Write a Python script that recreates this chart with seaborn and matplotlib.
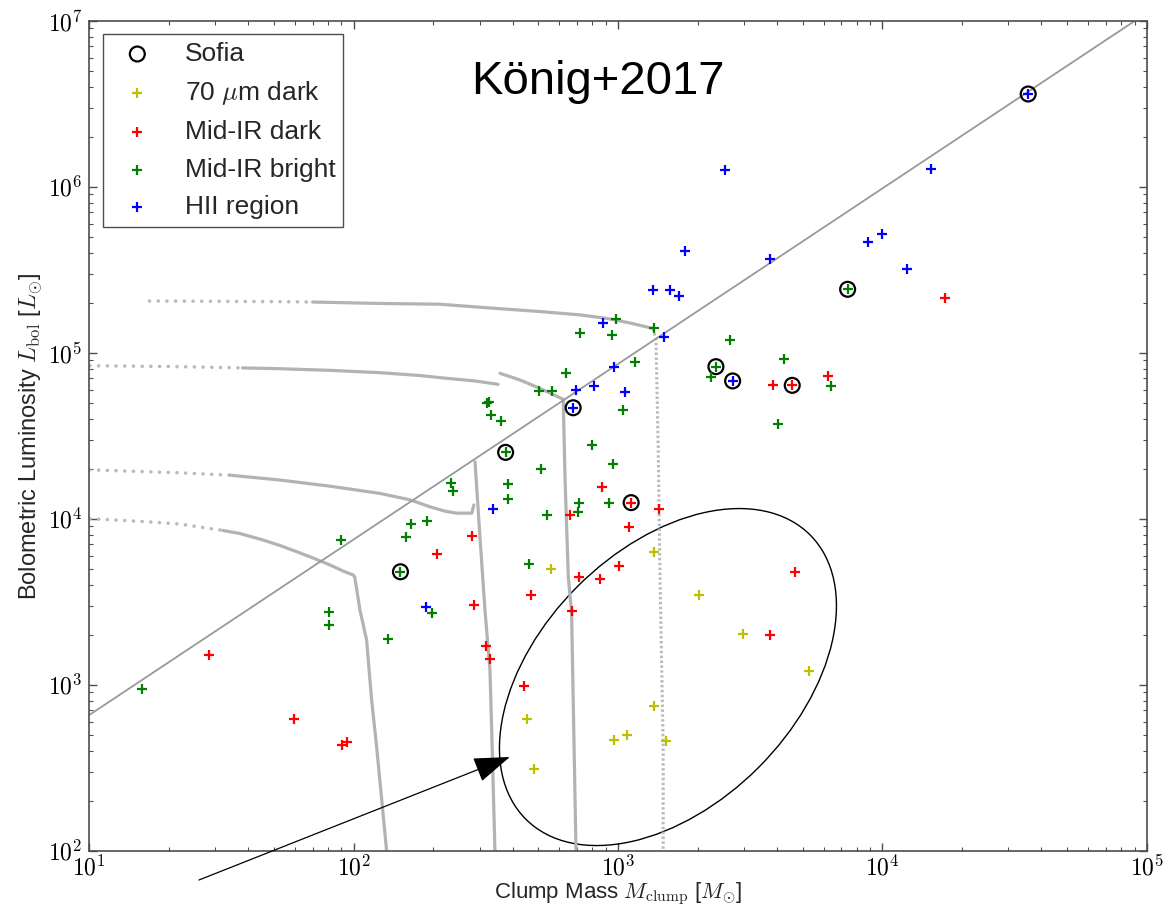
import numpy as np
import pandas as pd
import matplotlib
matplotlib.use("Agg")
import matplotlib.pyplot as plt
import seaborn as sns
from matplotlib.patches import Ellipse
from matplotlib.transforms import ScaledTranslation
from matplotlib.ticker import LogLocator, FuncFormatter, NullFormatter

# ---------------- data ----------------
sofia_mass = [35650, 7396, 2348, 2716, 4564, 677, 376, 1122, 150.4]
sofia_lum = [3.62e6, 2.41e5, 8.24e4, 6.76e4, 6.36e4, 4.66e4, 2.51e4, 1.25e4, 4.79e3]

dark70_mass = [1368, 558, 2030, 2970, 5296, 451, 1368, 968, 1084, 1515, 482]
dark70_lum = [6.32e3, 4.99e3, 3.48e3, 2.02e3, 1.21e3, 621, 744, 464, 498, 460, 309]

irdark_mass = [17260, 6215, 3869, 4564, 868, 1122, 1427, 656, 1097, 280, 207.6, 1012,
               4688, 712, 853, 470, 285, 671, 3758, 317, 328, 28.4, 443, 59.4, 90.1, 94.1]
irdark_lum = [2.14e5, 7.24e4, 6.39e4, 6.36e4, 1.55e4, 1.25e4, 1.15e4, 1.06e4, 8.95e3, 7.83e3,
              6.11e3, 5.19e3, 4.79e3, 4.44e3, 4.31e3, 3.48e3, 3.01e3, 2.77e3, 2.00e3, 1.72e3,
              1.43e3, 1.52e3, 989, 621, 433, 454]

irbright_mass = [7396, 980, 718, 951, 1368, 2652, 1163, 4257, 2348, 2243, 636, 504, 564, 6377,
                 321, 324, 330, 361, 1047, 4018, 376, 795, 960, 513, 233, 237, 383, 383, 922,
                 712, 706, 539, 461, 189, 164.4, 157.4, 89.3, 150.4, 197.8, 80.7, 80.7, 134.9, 15.8]
irbright_lum = [2.41e5, 1.59e5, 1.31e5, 1.27e5, 1.40e5, 1.19e5, 8.79e4, 9.12e4, 8.24e4, 7.17e4,
                7.52e4, 5.91e4, 5.91e4, 6.26e4, 4.96e4, 5.02e4, 4.23e4, 3.89e4, 4.52e4, 3.70e4,
                2.51e4, 2.77e4, 2.14e4, 2.00e4, 1.63e4, 1.47e4, 1.61e4, 1.32e4, 1.25e4, 1.24e4,
                1.09e4, 1.06e4, 5.33e3, 9.65e3, 9.25e3, 7.74e3, 7.44e3, 4.79e3, 2.72e3, 2.73e3,
                2.29e3, 1.88e3, 938]

hii_mass = [35650, 15240, 2541, 10000, 8851, 12420, 1792, 3758, 1353, 1580, 1698, 880, 1493,
            968, 694, 809, 1066, 677, 2716, 336, 188.6]
hii_lum = [3.62e6, 1.28e6, 1.265e6, 5.19e5, 4.67e5, 3.18e5, 4.12e5, 3.68e5, 2.39e5, 2.39e5,
           2.20e5, 1.52e5, 1.24e5, 8.24e4, 5.96e4, 6.30e4, 5.77e4, 4.66e4, 6.76e4, 1.15e4, 2.93e3]

# L/M relation
relation_mass = [10, 9.04e4]
relation_lum = [657, 1.0e7]

# evolutionary tracks: early (dotted) part, main part, descending part
track1_dot_m = [10.06, 16.5, 22.0, 32.0]
track1_dot_l = [1.0e4, 9.59e3, 9.29e3, 8.5e3]
track1_m = [32.0, 37.2, 45.5, 52.6, 60.9, 70.2, 81.5, 91.2, 99.7, 101, 105.7, 112, 117, 122.2, 133.3]
track1_l = [8.5e3, 8.14e3, 7.44e3, 6.90e3, 6.33e3, 5.80e3, 5.26e3, 4.84e3, 4.58e3, 4.45e3,
            2.82e3, 1.86e3, 809, 424, 100]

track2_dot_m = [10.06, 22.0, 34]
track2_dot_l = [1.97e4, 1.89e4, 1.83e4]
track2_m = [34, 52.6, 81.5, 125.9, 163.3, 194.5, 221.8, 245.5, 280, 285]
track2_l = [1.83e4, 1.71e4, 1.57e4, 1.42e4, 1.30e4, 1.18e4, 1.11e4, 1.08e4, 1.08e4, 1.21e4]
track2_v_m = [288, 300.6, 314, 328, 333, 342.5]
track2_v_l = [2.20e4, 7.79e3, 2.82e3, 1.23e3, 534, 100]

track3_dot_m = [10.06, 22.0, 38]
track3_dot_l = [8.35e4, 8.24e4, 8.1e4]
track3_m = [38, 52.6, 81.5, 125.9, 178, 225, 288, 352]
track3_l = [8.1e4, 8.01e4, 7.83e4, 7.58e4, 7.29e4, 7.01e4, 6.76e4, 6.45e4]
track3_v_m = [358, 426, 507, 621, 631, 649, 668, 694]
track3_v_l = [7.52e4, 6.85e4, 6.10e4, 5.24e4, 1.71e4, 4.47e3, 2.69e3, 100]

track4_dot_m = [16.9, 52.6, 70]
track4_dot_l = [2.05e5, 2.03e5, 2.02e5]
track4_m = [70, 81.5, 125.9, 212, 328, 507, 718, 906, 1112, 1360]
track4_l = [2.02e5, 2.01e5, 1.98e5, 1.96e5, 1.86e5, 1.77e5, 1.69e5, 1.61e5, 1.51e5, 1.40e5]
track4_v_m = [1360, 1393, 1420, 1443, 1483, 1483]
track4_v_l = [1.40e5, 1.19e5, 2.71e4, 4.47e3, 424, 100]

# ---------------- style ----------------
sns.set_theme(style="ticks")
plt.rcParams.update({
    "font.family": ["Liberation Sans", "DejaVu Sans"],
    "mathtext.fontset": "cm",
    "xtick.direction": "in", "ytick.direction": "in",
    "xtick.top": True, "ytick.right": True,
    "xtick.major.size": 6, "ytick.major.size": 6,
    "xtick.minor.size": 3, "ytick.minor.size": 3,
    "xtick.major.width": 1.0, "ytick.major.width": 1.0,
    "xtick.minor.width": 0.8, "ytick.minor.width": 0.8,
    "xtick.color": "0.3", "ytick.color": "0.3",
    "xtick.labelcolor": "black", "ytick.labelcolor": "black",
    "axes.edgecolor": "0.3", "axes.linewidth": 1.2,
    "xtick.major.pad": 3, "ytick.major.pad": 5,
})

fig = plt.figure(figsize=(11.76, 9.05), dpi=100)
ax = fig.add_axes([0.0759, 0.06, 0.8991, 0.9171])
ax.set_xscale("log")
ax.set_yscale("log")
ax.set_xlim(10, 1e5)
ax.set_ylim(1e2, 1e7)

solid_c = "#b3b3b3"
dot_c = "#bababa"
for dm, dl in [(track1_dot_m, track1_dot_l), (track2_dot_m, track2_dot_l),
               (track3_dot_m, track3_dot_l), (track4_dot_m, track4_dot_l)]:
    sns.lineplot(x=dm, y=dl, ax=ax, color=dot_c, lw=2.6, sort=False, estimator=None,
                 linestyle=(0, (0.01, 2.4)), dash_capstyle="round")
for sm, sl in [(track1_m, track1_l), (track2_m, track2_l), (track2_v_m, track2_v_l),
               (track3_m, track3_l), (track3_v_m, track3_v_l), (track4_m, track4_l)]:
    sns.lineplot(x=sm, y=sl, ax=ax, color=solid_c, lw=2.3, sort=False, estimator=None,
                 solid_capstyle="round", solid_joinstyle="round")
sns.lineplot(x=track4_v_m, y=track4_v_l, ax=ax, color=dot_c, lw=2.2, sort=False,
             estimator=None, linestyle=(0, (0.8, 0.8)))

sns.lineplot(x=relation_mass, y=relation_lum, ax=ax, color="#999999", lw=1.3,
             sort=False, estimator=None)

sns.scatterplot(x=sofia_mass, y=sofia_lum, ax=ax, marker="o", s=115, facecolors="none",
                edgecolors="black", color="black", linewidth=1.6, label="Sofia", zorder=4)

plus_kw = dict(marker="+", s=60, linewidth=1.6, zorder=5)
sns.scatterplot(x=dark70_mass, y=dark70_lum, ax=ax, color=(0.75, 0.75, 0), label=r"70 $\mu$m dark", **plus_kw)
sns.scatterplot(x=irdark_mass, y=irdark_lum, ax=ax, color="red", label="Mid-IR dark", **plus_kw)
sns.scatterplot(x=irbright_mass, y=irbright_lum, ax=ax, color=(0, 0.5, 0), label="Mid-IR bright", **plus_kw)
sns.scatterplot(x=hii_mass, y=hii_lum, ax=ax, color="blue", label="HII region", **plus_kw)

# highlighted group of young clumps
ell = Ellipse((0, 0), 4.02, 2.56, angle=45, fill=False, ec="black", lw=1.0,
              transform=fig.dpi_scale_trans + ScaledTranslation(1546, 1112, ax.transData))
ax.add_patch(ell)

ax.annotate("", xy=(390, 367), xytext=(26.0, 66.6), xycoords="data", textcoords="data",
            annotation_clip=False,
            arrowprops=dict(arrowstyle="-|>,head_length=2.3,head_width=0.8", mutation_scale=10,
                            color="black", lw=0.9, shrinkA=0, shrinkB=0))

ax.text(0.481, 0.926, "König+2017", transform=ax.transAxes, ha="center", va="center",
        fontsize=34, color="black")

# ticks
fmt = FuncFormatter(lambda v, p: r"$10^{%d}$" % int(round(np.log10(v))))
for axis in (ax.xaxis, ax.yaxis):
    axis.set_major_locator(LogLocator(base=10))
    axis.set_minor_locator(LogLocator(base=10, subs=np.arange(2, 10)))
    axis.set_major_formatter(fmt)
    axis.set_minor_formatter(NullFormatter())
ax.tick_params(axis="both", which="major", labelsize=17)

ax.set_xlabel(r"Clump Mass $M_{\rm clump}$ [$M_{\odot}$]", fontsize=16, labelpad=0)
ax.set_ylabel(r"Bolometric Luminosity $L_{\rm bol}$ [$L_{\odot}$]", fontsize=17, labelpad=2)

handles, labels = ax.get_legend_handles_labels()
order = ["Sofia", r"70 $\mu$m dark", "Mid-IR dark", "Mid-IR bright", "HII region"]
hmap = dict(zip(labels, handles))
leg = ax.legend([hmap[k] for k in order], order, loc="upper left",
                bbox_to_anchor=(0.013, 0.984), borderaxespad=0, fontsize=19,
                fancybox=False, framealpha=1, edgecolor="0.3", scatterpoints=1,
                handletextpad=0.8, borderpad=0.3, labelspacing=0.5, handlelength=2.0)
leg.get_frame().set_linewidth(1.0)

fig.savefig("out.png", dpi=100)
